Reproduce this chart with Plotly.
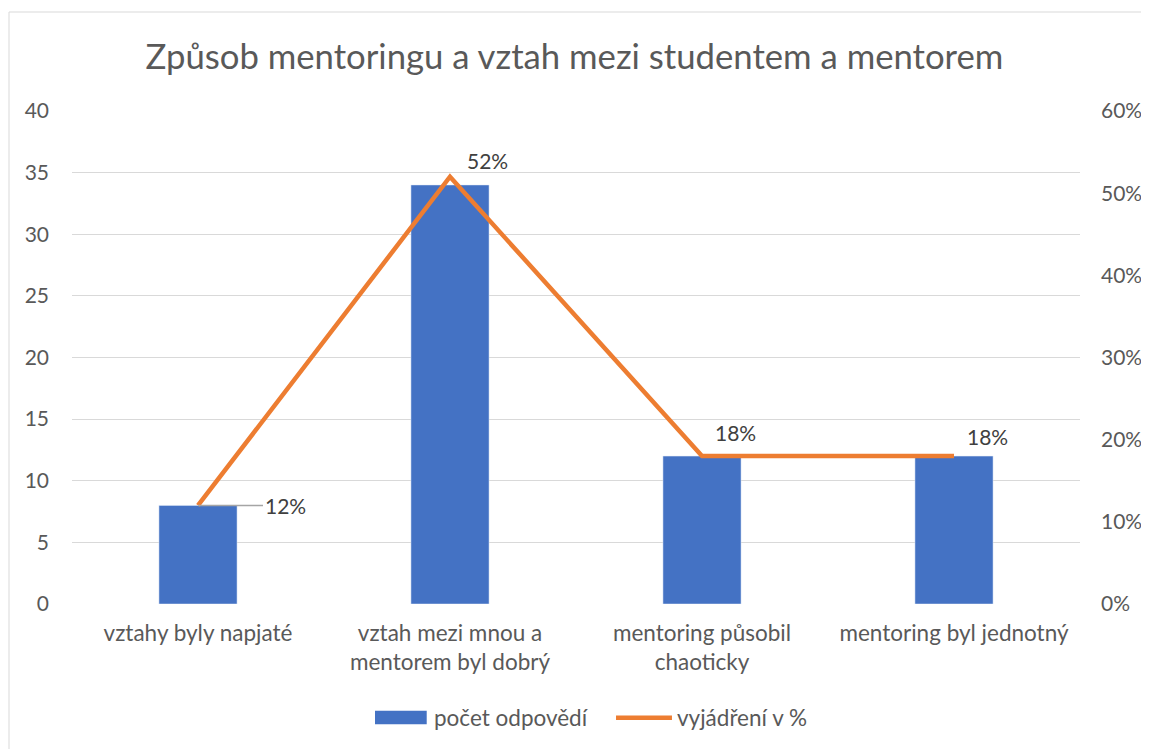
import plotly.graph_objects as go

categories = ["vztahy byly napjaté", "vztah mezi mnou a<br>mentorem byl dobrý",
              "mentoring působil<br>chaoticky", "mentoring byl jednotný"]
counts = [8, 34, 12, 12]
percents = [0.12, 0.52, 0.18, 0.18]
pct_labels = ["12%", "52%", "18%", "18%"]
left_ticks = [0, 5, 10, 15, 20, 25, 30, 35, 40]
right_ticks = [0, 0.1, 0.2, 0.3, 0.4, 0.5, 0.6]
series_names = ["počet odpovědí", "vyjádření v %"]

FONT = "Lato"
GREY = "#595959"
BLUE = "#4472C4"
ORANGE = "#ED7D31"
TS = 21
XS = 22.5

fig = go.Figure()
fig.add_trace(go.Bar(x=categories, y=counts, name=series_names[0],
                     marker_color=BLUE, width=0.31, showlegend=False))
fig.add_trace(go.Scatter(x=categories, y=percents, name=series_names[1],
                         mode="lines", line=dict(color=ORANGE, width=4.5),
                         yaxis="y2", showlegend=False))

# data labels (label offsets in pixels)
offsets = [(None, None), (37, 16), (33, 24), (33, 20)]
for i, (cat, val, lab) in enumerate(zip(categories, percents, pct_labels)):
    if i == 0:
        fig.add_annotation(x=cat, y=val, xref="x", yref="y2", text=lab,
                           showarrow=True, ax=87, ay=0, arrowhead=0,
                           arrowcolor="#A5A5A5", arrowwidth=1.5, standoff=0,
                           font=dict(family=FONT, size=TS, color="#404040"))
    else:
        dx, dy = offsets[i]
        fig.add_annotation(x=cat, y=val, xref="x", yref="y2", text=lab,
                           showarrow=False, xshift=dx, yshift=dy,
                           font=dict(family=FONT, size=TS, color="#404040"))

# chart border (only top and left edges are visible)
fig.add_shape(type="line", xref="paper", yref="paper",
              x0=-0.0625, x1=-0.0625, y0=-0.5, y1=1.2008,
              line=dict(color="#D9D9D9", width=1), layer="below")
fig.add_shape(type="line", xref="paper", yref="paper",
              x0=-0.0625, x1=1.5, y0=1.2008, y1=1.2008,
              line=dict(color="#D9D9D9", width=1), layer="below")

# custom legend
fig.add_shape(type="rect", xref="paper", yref="paper",
              x0=0.3006, x1=0.3519, y0=-0.2440, y1=-0.2164,
              fillcolor=BLUE, line=dict(width=0))
fig.add_shape(type="line", xref="paper", yref="paper",
              x0=0.5397, x1=0.5952, y0=-0.2306, y1=-0.2306,
              line=dict(color=ORANGE, width=4.5))
fig.add_annotation(xref="paper", yref="paper", x=0.3571, y=-0.2312,
                   xanchor="left", yanchor="middle", showarrow=False,
                   text=series_names[0], font=dict(family=FONT, size=XS, color=GREY))
fig.add_annotation(xref="paper", yref="paper", x=0.5982, y=-0.2312,
                   xanchor="left", yanchor="middle", showarrow=False,
                   text=series_names[1], font=dict(family=FONT, size=XS, color=GREY))

fig.update_layout(
    width=1141, height=741,
    margin=dict(l=64, r=69, t=103, b=145),
    paper_bgcolor="white", plot_bgcolor="white",
    title=dict(text="Způsob mentoringu a vztah mezi studentem a mentorem",
               x=0.5 * 1133 / 1141, xanchor="center", y=1 - 49 / 741, yanchor="middle",
               xref="container", yref="container",
               font=dict(family=FONT, size=34.7, color=GREY)),
    font=dict(family=FONT, size=TS, color=GREY),
    xaxis=dict(showgrid=False, showline=False, ticks="", range=[-0.5, 3.5],
               automargin=False,
               tickfont=dict(family=FONT, size=XS, color=GREY),
               ticklabelstandoff=13),
    yaxis=dict(range=[0, 40], tickvals=left_ticks, showgrid=True,
               gridcolor="#D9D9D9", gridwidth=1, zeroline=False, automargin=False,
               tickfont=dict(family=FONT, size=TS, color=GREY),
               ticklabelstandoff=22),
    yaxis2=dict(range=[0, 0.6], tickvals=right_ticks, tickformat=".0%",
                overlaying="y", side="right", showgrid=False, zeroline=False,
                automargin=False,
                tickfont=dict(family=FONT, size=TS, color=GREY),
                ticklabelstandoff=20),
    showlegend=False,
)

fig.write_html("out.html",
               post_script="document.body.style.overflow='hidden';"
                           "document.documentElement.style.overflow='hidden';")
